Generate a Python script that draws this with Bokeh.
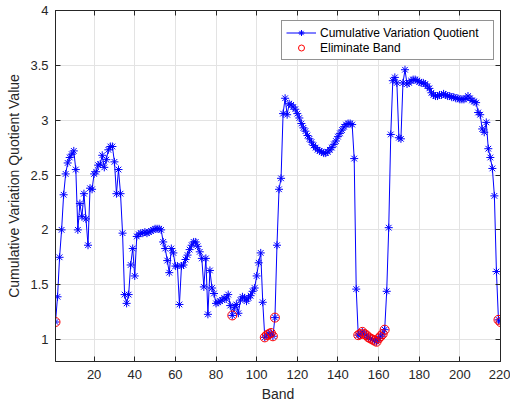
from bokeh.plotting import figure
from bokeh.models import (LinearAxis, Range1d, Legend, LegendItem,
                          NumeralTickFormatter, FixedTicker, ColumnDataSource)
from bokeh.embed import file_html
from bokeh.resources import INLINE

# ---- data ----
values = [
    1.16, 1.39, 1.75, 2.00, 2.32, 2.51, 2.61, 2.66, 2.69, 2.72,
    2.55, 2.00, 2.24, 2.12, 2.33, 2.10, 1.86, 2.38, 2.37, 2.51,
    2.53, 2.59, 2.60, 2.68, 2.57, 2.64, 2.73, 2.76, 2.76, 2.62,
    2.33, 2.55, 2.33, 1.97, 1.41, 1.33, 1.41, 1.68, 1.83, 1.58,
    1.94, 1.96, 1.97, 1.97, 1.98, 1.97, 1.98, 1.99, 2.00, 2.01,
    2.01, 2.01, 2.00, 1.89, 1.83, 1.72, 1.61, 1.83, 1.79, 1.67,
    1.67, 1.32, 1.67, 1.68, 1.73, 1.77, 1.82, 1.86, 1.89, 1.89,
    1.85, 1.80, 1.74, 1.48, 1.74, 1.23, 1.63, 1.47, 1.42, 1.33,
    1.34, 1.35, 1.36, 1.38, 1.37, 1.41, 1.31, 1.22, 1.29, 1.32,
    1.24, 1.36, 1.39, 1.38, 1.35, 1.38, 1.40, 1.44, 1.47, 1.58,
    1.70, 1.79, 1.34, 1.02, 1.04, 1.05, 1.06, 1.03, 1.20, 1.86,
    2.37, 2.47, 3.06, 3.20, 3.05, 3.15, 3.14, 3.12, 3.10, 3.06,
    3.02, 2.97, 2.93, 2.90, 2.86, 2.83, 2.80, 2.77, 2.75, 2.73,
    2.72, 2.71, 2.70, 2.70, 2.71, 2.73, 2.75, 2.78, 2.81, 2.85,
    2.88, 2.91, 2.94, 2.96, 2.97, 2.97, 2.96, 2.65, 1.46, 1.04,
    1.05, 1.07, 1.05, 1.04, 1.02, 1.01, 1.00, 0.99, 0.98, 1.01,
    1.03, 1.05, 1.09, 1.44, 2.02, 2.87, 3.36, 3.39, 3.34, 2.84,
    2.83, 3.34, 3.46, 3.33, 3.34, 3.36, 3.37, 3.37, 3.36, 3.35,
    3.34, 3.34, 3.33, 3.31, 3.29, 3.25, 3.23, 3.22, 3.22, 3.23,
    3.23, 3.24, 3.23, 3.22, 3.22, 3.21, 3.21, 3.20, 3.20, 3.19,
    3.19, 3.19, 3.20, 3.22, 3.20, 3.18, 3.17, 3.16, 3.07, 3.05,
    2.92, 2.89, 2.98, 2.74, 2.66, 2.56, 2.31, 1.62, 1.18, 1.16,
]
bands = list(range(1, len(values) + 1))

eliminated = [1, 88, 104, 105, 106, 107, 108, 109,
              150, 151, 152, 153, 154, 155, 156, 157, 158, 159, 160, 161, 162, 163,
              219, 220]
elim_values = [values[b - 1] for b in eliminated]

x_ticks = [20, 40, 60, 80, 100, 120, 140, 160, 180, 200, 220]
y_ticks = [1, 1.5, 2, 2.5, 3, 3.5, 4]

FONT = "Liberation Sans"
DARK = "#262626"

p = figure(width=510, height=405, x_range=Range1d(1, 220), y_range=Range1d(0.8, 4),
           output_backend="svg", toolbar_location=None,
           min_border_left=55, min_border_right=10, min_border_top=10, min_border_bottom=44)
p.background_fill_color = "white"
p.border_fill_color = "white"
p.outline_line_color = DARK
p.outline_line_width = 1

src = ColumnDataSource(dict(x=bands, y=values))
esrc = ColumnDataSource(dict(x=eliminated, y=elim_values))

line_r = p.line("x", "y", source=src, line_color="#0000ff", line_width=1)
star_r = p.scatter("x", "y", source=src, marker="asterisk", size=8,
                   line_color="#0000ff", line_width=1)
circ_r = p.scatter("x", "y", source=esrc, marker="circle", size=9,
                   fill_color=None, line_color="#ff0000", line_width=1)

# axes
xax = p.xaxis[0]
yax = p.yaxis[0]
xax.ticker = FixedTicker(ticks=x_ticks)
yax.ticker = FixedTicker(ticks=y_ticks)
yax.formatter = NumeralTickFormatter(format="0.[0]")
for ax in (xax, yax):
    ax.major_tick_in = 5
    ax.major_tick_out = 0
    ax.minor_tick_line_color = None
    ax.axis_line_color = DARK
    ax.major_tick_line_color = DARK
    ax.major_label_text_font = FONT
    ax.major_label_text_font_size = "13px"
    ax.major_label_text_color = DARK
    ax.axis_label_text_font = FONT
    ax.axis_label_text_font_size = "14px"
    ax.axis_label_text_font_style = "normal"
    ax.axis_label_text_color = DARK
xax.axis_label = "Band"
yax.axis_label = "Cumulative Variation Quotient Value"
xax.major_label_standoff = 8
yax.major_label_standoff = 7
xax.axis_label_standoff = 4
yax.axis_label_standoff = 5

# mirrored tick marks on the right and top edges (box on), no labels
for loc, tk in (("right", y_ticks), ("above", x_ticks)):
    ax = LinearAxis(ticker=FixedTicker(ticks=tk),
                    major_label_text_font_size="1px", major_label_text_color=None,
                    major_tick_in=5, major_tick_out=0, minor_tick_line_color=None,
                    axis_line_color=DARK, major_tick_line_color=DARK,
                    major_label_standoff=0)
    p.add_layout(ax, loc)

p.xgrid.ticker = FixedTicker(ticks=x_ticks)
p.ygrid.ticker = FixedTicker(ticks=y_ticks)
p.xgrid.grid_line_color = "#e3e3e3"
p.ygrid.grid_line_color = "#e3e3e3"

legend = Legend(items=[
    LegendItem(label="Cumulative Variation Quotient", renderers=[line_r, star_r]),
    LegendItem(label="Eliminate Band", renderers=[circ_r]),
], location=(226, 301))
legend.margin = 0
legend.padding = 4
legend.spacing = 0
legend.glyph_width = 30
legend.glyph_height = 15
legend.label_height = 15
legend.label_width = 169
legend.label_standoff = 4
legend.label_text_font = FONT
legend.label_text_font_size = "12px"
legend.label_text_color = "black"
legend.border_line_color = DARK
legend.border_line_width = 1
legend.background_fill_color = "white"
legend.background_fill_alpha = 1
p.add_layout(legend, "center")

open("out.html", "w").write(file_html(p, INLINE))
